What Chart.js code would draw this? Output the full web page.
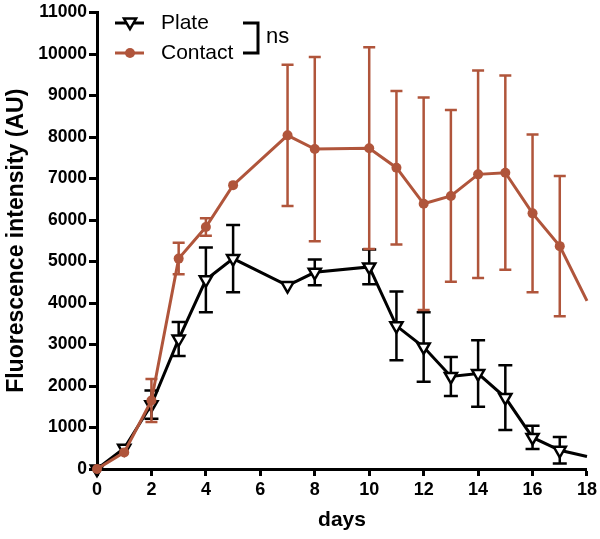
<!DOCTYPE html>
<html>
<head>
<meta charset="utf-8">
<script src="https://cdn.jsdelivr.net/npm/chart.js@4.4.0/dist/chart.umd.min.js"></script>
<style>
  html, body { margin: 0; padding: 0; background: #fff; }
</style>
</head>
<body>
<canvas id="chart" width="600" height="539"></canvas>
<script>
// days sampled (no measurement on day 6 and 9)
const days = [0, 1, 2, 3, 4, 5, 7, 8, 10, 11, 12, 13, 14, 15, 16, 17, 18];

const plateMean = [0, 500, 1550, 3130, 4560, 5070, 4420, 4740, 4870, 3450, 2940, 2230, 2300, 1720, 760, 450, 300];
const plateErr  = [0, 0, 340, 410, 780, 810, 0, 310, 420, 830, 840, 470, 800, 780, 280, 320, 0];

const contactMean = [0, 400, 1650, 5070, 5830, 6840, 8040, 7710, 7730, 7260, 6390, 6580, 7100, 7140, 6160, 5370, 4050];
const contactErr  = [0, 0, 520, 380, 210, 0, 1700, 2220, 2430, 1850, 2560, 2070, 2500, 2340, 1900, 1690, 0];

const yTicks = [0, 1000, 2000, 3000, 4000, 5000, 6000, 7000, 8000, 9000, 10000, 11000];
const xTicks = [0, 2, 4, 6, 8, 10, 12, 14, 16, 18];

const RED = '#b0553b';
const FONT = "'Liberation Sans', Arial, Helvetica, sans-serif";

function toPoints(ys) {
    return days.map((d, i) => ({ x: d, y: ys[i] }));
}

// last point (day 18) has no marker in the original
function radiusFor(r) {
    return ctx => ctx.dataIndex === days.length - 1 ? 0 : r;
}

const errorBars = {
    id: 'errorBars',
    beforeDatasetDraw(chart, args) {
        const ds = chart.data.datasets[args.index];
        if (!ds.errors) return;
        const meta = args.meta;
        const y = chart.scales.y;
        const c = chart.ctx;
        c.save();
        c.strokeStyle = ds.borderColor;
        c.lineWidth = 2.5;
        meta.data.forEach((pt, i) => {
            const e = ds.errors[i];
            if (!e) return;
            const m = ds.data[i].y;
            const top = y.getPixelForValue(m + e);
            const bot = y.getPixelForValue(m - e);
            const half = ds.capHalf;
            c.beginPath();
            c.moveTo(pt.x, top); c.lineTo(pt.x, bot);
            c.moveTo(pt.x - half, top); c.lineTo(pt.x + half, top);
            c.moveTo(pt.x - half, bot); c.lineTo(pt.x + half, bot);
            c.stroke();
        });
        c.restore();
    }
};

const insideLegend = {
    id: 'insideLegend',
    afterDraw(chart) {
        const c = chart.ctx;
        c.save();
        // Plate
        c.strokeStyle = '#000'; c.lineWidth = 3;
        c.beginPath(); c.moveTo(115, 23); c.lineTo(144, 23); c.stroke();
        c.fillStyle = '#fff'; c.lineWidth = 2.5;
        Chart.helpers.drawPoint(c, { pointStyle: 'triangle', rotation: 180, radius: 7, borderWidth: 2.5 }, 130, 22);
        // Contact
        c.strokeStyle = RED; c.lineWidth = 3;
        c.beginPath(); c.moveTo(115, 53); c.lineTo(144, 53); c.stroke();
        c.fillStyle = RED;
        c.beginPath(); c.arc(130, 53, 5, 0, Math.PI * 2); c.fill();

        c.fillStyle = '#000';
        c.font = '21px ' + FONT;
        c.textBaseline = 'middle';
        c.textAlign = 'left';
        c.fillText('Plate', 161, 23);
        c.fillText('Contact', 161, 53);

        // significance bracket
        c.strokeStyle = '#000'; c.lineWidth = 3;
        c.beginPath();
        c.moveTo(243, 23); c.lineTo(258, 23); c.lineTo(258, 53); c.lineTo(243, 53);
        c.stroke();
        c.font = '22px ' + FONT;
        c.fillText('ns', 266, 37);
        c.restore();
    }
};

const ctx = document.getElementById('chart').getContext('2d');

new Chart(ctx, {
    type: 'line',
    data: {
        datasets: [
            {
                label: 'Contact',
                data: toPoints(contactMean),
                errors: contactErr,
                capHalf: 6,
                order: 0,
                borderColor: RED,
                backgroundColor: RED,
                borderWidth: 3,
                pointStyle: 'circle',
                pointRadius: radiusFor(5),
                pointBorderWidth: 0,
                pointBackgroundColor: RED,
                clip: false
            },
            {
                label: 'Plate',
                data: toPoints(plateMean),
                errors: plateErr,
                capHalf: 7,
                order: 1,
                borderColor: '#000',
                backgroundColor: '#fff',
                borderWidth: 3,
                pointStyle: 'triangle',
                pointRotation: 180,
                pointRadius: radiusFor(7),
                pointBorderWidth: 2.5,
                pointBackgroundColor: '#fff',
                pointBorderColor: '#000',
                clip: false
            }
        ]
    },
    options: {
        responsive: false,
        animation: false,
        layout: { padding: { top: 11, right: 13, left: 0, bottom: 0 } },
        plugins: {
            legend: { display: false },
            tooltip: { enabled: false }
        },
        scales: {
            x: {
                type: 'linear',
                min: 0,
                max: 18,
                afterBuildTicks: s => { s.ticks = xTicks.map(v => ({ value: v })); },
                afterFit: s => { s.height = 70; },
                grid: { drawOnChartArea: false, drawTicks: true, tickLength: 7, tickWidth: 3, color: '#000' },
                border: { display: true, width: 3, color: '#000' },
                ticks: { color: '#000', padding: 3, maxRotation: 0, callback: v => String(v), font: { family: FONT, size: 18, weight: 'bold' } },
                title: { display: true, text: 'days', color: '#000', padding: { top: 0, bottom: 6 }, font: { family: FONT, size: 21, weight: 'bold' } }
            },
            y: {
                min: 0,
                max: 11000,
                afterBuildTicks: s => { s.ticks = yTicks.map(v => ({ value: v })); },
                afterFit: s => { s.width = 97; },
                grid: { drawOnChartArea: false, drawTicks: true, tickLength: 8, tickWidth: 3, color: '#000' },
                border: { display: true, width: 3, color: '#000' },
                ticks: { color: '#000', padding: 2, callback: v => String(v), font: { family: FONT, size: 17.5, weight: 'bold' } },
                title: { display: true, text: 'Fluorescence intensity (AU)', color: '#000', padding: { top: 3, bottom: 0 }, font: { family: FONT, size: 23, weight: 'bold' } }
            }
        }
    },
    plugins: [errorBars, insideLegend]
});
</script>
</body>
</html>
